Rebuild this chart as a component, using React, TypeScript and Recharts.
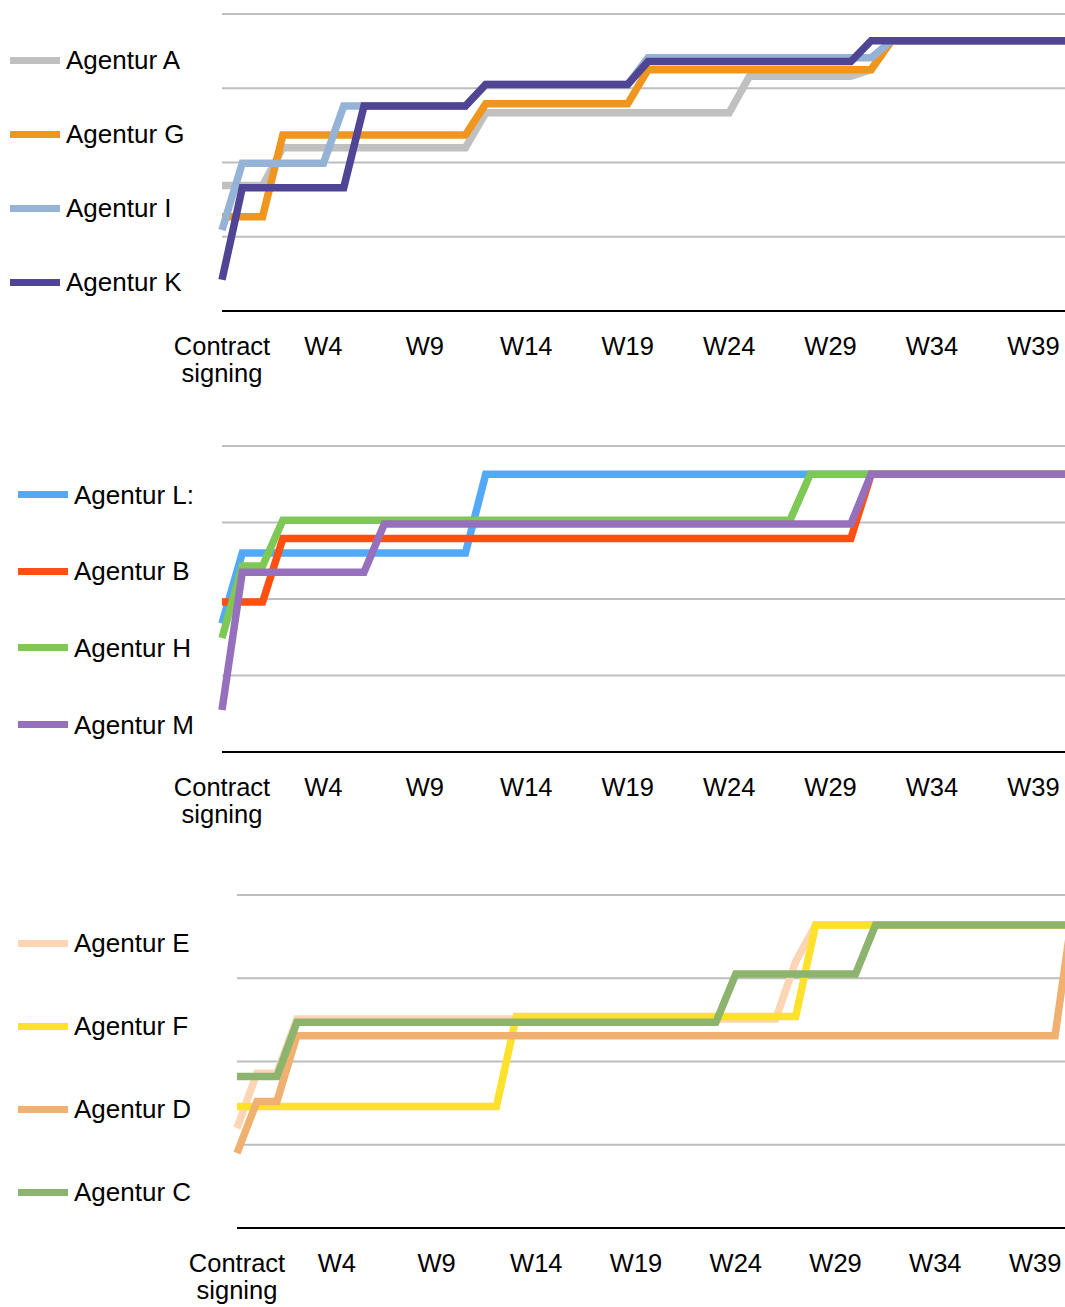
import React from 'react';
import { LineChart, Line, XAxis, YAxis, CartesianGrid, Legend } from 'recharts';

const weeks = [
  'Contract signing', 'W0', 'W1', 'W2', 'W3', 'W4', 'W5', 'W6', 'W7', 'W8', 'W9',
  'W10', 'W11', 'W12', 'W13', 'W14', 'W15', 'W16', 'W17', 'W18', 'W19',
  'W20', 'W21', 'W22', 'W23', 'W24', 'W25', 'W26', 'W27', 'W28', 'W29',
  'W30', 'W31', 'W32', 'W33', 'W34', 'W35', 'W36', 'W37', 'W38', 'W39',
  'W40', 'W41',
];
const yTicks = [0, 1, 2, 3, 4];

// top panel
const agenturA = [
  1.69, 1.69, 1.69, 2.2, 2.2, 2.2, 2.2, 2.2, 2.2, 2.2, 2.2, 2.2, 2.2,
  2.67, 2.67, 2.67, 2.67, 2.67, 2.67, 2.67, 2.67, 2.67, 2.67, 2.67, 2.67, 2.67,
  3.16, 3.16, 3.16, 3.16, 3.16, 3.16, 3.25,
  3.64, 3.64, 3.64, 3.64, 3.64, 3.64, 3.64, 3.64, 3.64, 3.64,
];
const agenturG = [
  1.27, 1.27, 1.27, 2.37, 2.37, 2.37, 2.37, 2.37, 2.37, 2.37, 2.37, 2.37, 2.37,
  2.79, 2.79, 2.79, 2.79, 2.79, 2.79, 2.79, 2.79,
  3.25, 3.25, 3.25, 3.25, 3.25, 3.25, 3.25, 3.25, 3.25, 3.25, 3.25, 3.25,
  3.64, 3.64, 3.64, 3.64, 3.64, 3.64, 3.64, 3.64, 3.64, 3.64,
];
const agenturI = [
  1.09, 1.99, 1.99, 1.99, 1.99, 1.99, 2.76, 2.76, 2.76, 2.76, 2.76, 2.76, 2.76,
  3.05, 3.05, 3.05, 3.05, 3.05, 3.05, 3.05, 3.05,
  3.41, 3.41, 3.41, 3.41, 3.41, 3.41, 3.41, 3.41, 3.41, 3.41, 3.41, 3.41,
  3.64, 3.64, 3.64, 3.64, 3.64, 3.64, 3.64, 3.64, 3.64, 3.64,
];
const agenturK = [
  0.42, 1.66, 1.66, 1.66, 1.66, 1.66, 1.66, 2.76, 2.76, 2.76, 2.76, 2.76, 2.76,
  3.05, 3.05, 3.05, 3.05, 3.05, 3.05, 3.05, 3.05,
  3.36, 3.36, 3.36, 3.36, 3.36, 3.36, 3.36, 3.36, 3.36, 3.36, 3.36,
  3.64, 3.64, 3.64, 3.64, 3.64, 3.64, 3.64, 3.64, 3.64, 3.64, 3.64,
];

// middle panel
const agenturL = [
  1.68, 2.6, 2.6, 2.6, 2.6, 2.6, 2.6, 2.6, 2.6, 2.6, 2.6, 2.6, 2.6,
  3.63, 3.63, 3.63, 3.63, 3.63, 3.63, 3.63, 3.63, 3.63, 3.63, 3.63, 3.63, 3.63, 3.63, 3.63,
  3.63, 3.63, 3.63, 3.63, 3.63, 3.63, 3.63, 3.63, 3.63, 3.63, 3.63, 3.63, 3.63, 3.63, 3.63,
];
const agenturB = [
  1.96, 1.96, 1.96, 2.79, 2.79, 2.79, 2.79, 2.79, 2.79, 2.79, 2.79, 2.79, 2.79,
  2.79, 2.79, 2.79, 2.79, 2.79, 2.79, 2.79, 2.79, 2.79, 2.79, 2.79, 2.79, 2.79, 2.79, 2.79,
  2.79, 2.79, 2.79, 2.79, 3.63, 3.63, 3.63, 3.63, 3.63, 3.63, 3.63, 3.63, 3.63, 3.63, 3.63,
];
const agenturH = [
  1.49, 2.43, 2.43, 3.03, 3.03, 3.03, 3.03, 3.03, 3.03, 3.03, 3.03, 3.03, 3.03,
  3.03, 3.03, 3.03, 3.03, 3.03, 3.03, 3.03, 3.03, 3.03, 3.03, 3.03, 3.03, 3.03, 3.03, 3.03,
  3.03, 3.63, 3.63, 3.63, 3.63, 3.63, 3.63, 3.63, 3.63, 3.63, 3.63, 3.63, 3.63, 3.63, 3.63,
];
const agenturM = [
  0.55, 2.35, 2.35, 2.35, 2.35, 2.35, 2.35, 2.35, 2.98, 2.98, 2.98, 2.98, 2.98,
  2.98, 2.98, 2.98, 2.98, 2.98, 2.98, 2.98, 2.98, 2.98, 2.98, 2.98, 2.98, 2.98, 2.98, 2.98,
  2.98, 2.98, 2.98, 2.98, 3.63, 3.63, 3.63, 3.63, 3.63, 3.63, 3.63, 3.63, 3.63, 3.63, 3.63,
];

// bottom panel
const agenturE = [
  1.2, 1.86, 1.86, 2.51, 2.51, 2.51, 2.51, 2.51, 2.51, 2.51, 2.51, 2.51, 2.51,
  2.51, 2.51, 2.51, 2.51, 2.51, 2.51, 2.51, 2.51, 2.51, 2.51, 2.51, 2.51, 2.51, 2.51, 2.51,
  3.2, 3.64, 3.64, 3.64, 3.64, 3.64, 3.64, 3.64, 3.64, 3.64, 3.64, 3.64, 3.64, 3.64, 3.64,
];
const agenturF = [
  1.46, 1.46, 1.46, 1.46, 1.46, 1.46, 1.46, 1.46, 1.46, 1.46, 1.46, 1.46, 1.46, 1.46,
  2.54, 2.54, 2.54, 2.54, 2.54, 2.54, 2.54, 2.54, 2.54, 2.54, 2.54, 2.54, 2.54, 2.54, 2.54,
  3.64, 3.64, 3.64, 3.64, 3.64, 3.64, 3.64, 3.64, 3.64, 3.64, 3.64, 3.64, 3.64, 3.64,
];
const agenturD = [
  0.9, 1.52, 1.52, 2.31, 2.31, 2.31, 2.31, 2.31, 2.31, 2.31, 2.31, 2.31, 2.31,
  2.31, 2.31, 2.31, 2.31, 2.31, 2.31, 2.31, 2.31, 2.31, 2.31, 2.31, 2.31, 2.31, 2.31, 2.31,
  2.31, 2.31, 2.31, 2.31, 2.31, 2.31, 2.31, 2.31, 2.31, 2.31, 2.31, 2.31, 2.31, 2.31, 4.0,
];
const agenturC = [
  1.82, 1.82, 1.82, 2.47, 2.47, 2.47, 2.47, 2.47, 2.47, 2.47, 2.47, 2.47, 2.47,
  2.47, 2.47, 2.47, 2.47, 2.47, 2.47, 2.47, 2.47, 2.47, 2.47, 2.47, 2.47,
  3.05, 3.05, 3.05, 3.05, 3.05, 3.05, 3.05,
  3.64, 3.64, 3.64, 3.64, 3.64, 3.64, 3.64, 3.64, 3.64, 3.64, 3.64,
];

const FONT = '"Liberation Sans", Arial, Helvetica, sans-serif';

interface Series {
  name: string;
  values: number[];
  color: string;
}

interface Panel {
  series: Series[];
  top: number;
  plotLeft: number;
  plotHeight: number;
  width: number;
  legendFirst: number;
  legendGap: number;
  lineLeft: number;
  textLeft: number;
}

const panels: Panel[] = [
  {
    series: [
      { name: 'Agentur A', values: agenturA, color: '#C0C0C0' },
      { name: 'Agentur G', values: agenturG, color: '#F0961E' },
      { name: 'Agentur I', values: agenturI, color: '#95B3D7' },
      { name: 'Agentur K', values: agenturK, color: '#504494' },
    ],
    top: 0, plotLeft: 222, plotHeight: 297, width: 1074,
    legendFirst: 60, legendGap: 74, lineLeft: 10, textLeft: 66,
  },
  {
    series: [
      { name: 'Agentur L:', values: agenturL, color: '#52A9F8' },
      { name: 'Agentur B', values: agenturB, color: '#FF5012' },
      { name: 'Agentur H', values: agenturH, color: '#7EC856' },
      { name: 'Agentur M', values: agenturM, color: '#9670BC' },
    ],
    top: 432, plotLeft: 222, plotHeight: 306, width: 1074,
    legendFirst: 62.5, legendGap: 76.7, lineLeft: 18, textLeft: 74,
  },
  {
    series: [
      { name: 'Agentur E', values: agenturE, color: '#FBD5B4' },
      { name: 'Agentur F', values: agenturF, color: '#FDE12B' },
      { name: 'Agentur D', values: agenturD, color: '#F0B170' },
      { name: 'Agentur C', values: agenturC, color: '#8DB46E' },
    ],
    top: 881, plotLeft: 237, plotHeight: 333, width: 1075,
    legendFirst: 62, legendGap: 83, lineLeft: 18, textLeft: 74,
  },
];

// "Contract signing" wraps onto two lines, the rest are single week labels
const WeekTick = ({ x, y, payload }: any) => {
  const lines = payload.value === 'Contract signing' ? ['Contract', 'signing'] : [payload.value];
  return (
    <text x={x} y={y + 44} textAnchor="middle" fill="#000" fontSize={25.5} fontFamily={FONT}>
      {lines.map((l: string, i: number) => (
        <tspan key={i} x={x} dy={i === 0 ? 0 : 27}>
          {l}
        </tspan>
      ))}
    </text>
  );
};

function AgenturPanel({ panel }: { panel: Panel }) {
  const data = weeks.map((week, i) => {
    const row: Record<string, any> = { week };
    panel.series.forEach((s) => { row[s.name] = s.values[i]; });
    return row;
  });
  const order = panel.series.map((s) => s.name);
  const height = 14 + panel.plotHeight + 90;

  const renderLegend = (props: any) => {
    const items = [...(props.payload ?? [])].sort(
      (a: any, b: any) => order.indexOf(a.value) - order.indexOf(b.value)
    );
    return (
      <div style={{ position: 'relative', width: panel.plotLeft, height }}>
        {items.map((item: any, i: number) => (
          <div
            key={item.value}
            style={{ position: 'absolute', left: 0, top: panel.legendFirst + i * panel.legendGap - 15, height: 30, width: panel.plotLeft }}
          >
            <div style={{ position: 'absolute', left: panel.lineLeft, top: 11.5, width: 50, height: 7, background: item.color }} />
            <span
              style={{ position: 'absolute', left: panel.textLeft, top: 0, fontSize: 26, lineHeight: '30px', fontFamily: FONT, color: '#000', whiteSpace: 'nowrap' }}
            >
              {item.value}
            </span>
          </div>
        ))}
      </div>
    );
  };

  return (
    <div style={{ position: 'absolute', left: 0, top: panel.top }}>
      <LineChart width={panel.width} height={height} data={data} margin={{ top: 14, right: 0, bottom: 0, left: panel.plotLeft }}>
        <CartesianGrid vertical={false} stroke="#BEBEBE" strokeWidth={2} />
        <XAxis
          dataKey="week"
          interval={4}
          tickLine={false}
          tickSize={0}
          tickMargin={0}
          height={90}
          axisLine={{ stroke: '#000', strokeWidth: 2 }}
          tick={<WeekTick />}
        />
        <YAxis hide type="number" domain={[0, 4]} ticks={yTicks} />
        <Legend
          layout="vertical"
          align="center"
          verticalAlign="middle"
          content={renderLegend}
          wrapperStyle={{ left: 0, top: 0, width: panel.plotLeft, height }}
        />
        {panel.series.map((s) => (
          <Line
            key={s.name}
            type="linear"
            dataKey={s.name}
            stroke={s.color}
            strokeWidth={7.5}
            dot={false}
            activeDot={false}
            isAnimationActive={false}
          />
        ))}
      </LineChart>
    </div>
  );
}

export default function App() {
  return (
    <div style={{ position: 'absolute', left: 0, top: 0, width: 1065, height: 1307, overflow: 'hidden', background: '#fff' }}>
      {panels.map((p, i) => (
        <AgenturPanel key={i} panel={p} />
      ))}
    </div>
  );
}
